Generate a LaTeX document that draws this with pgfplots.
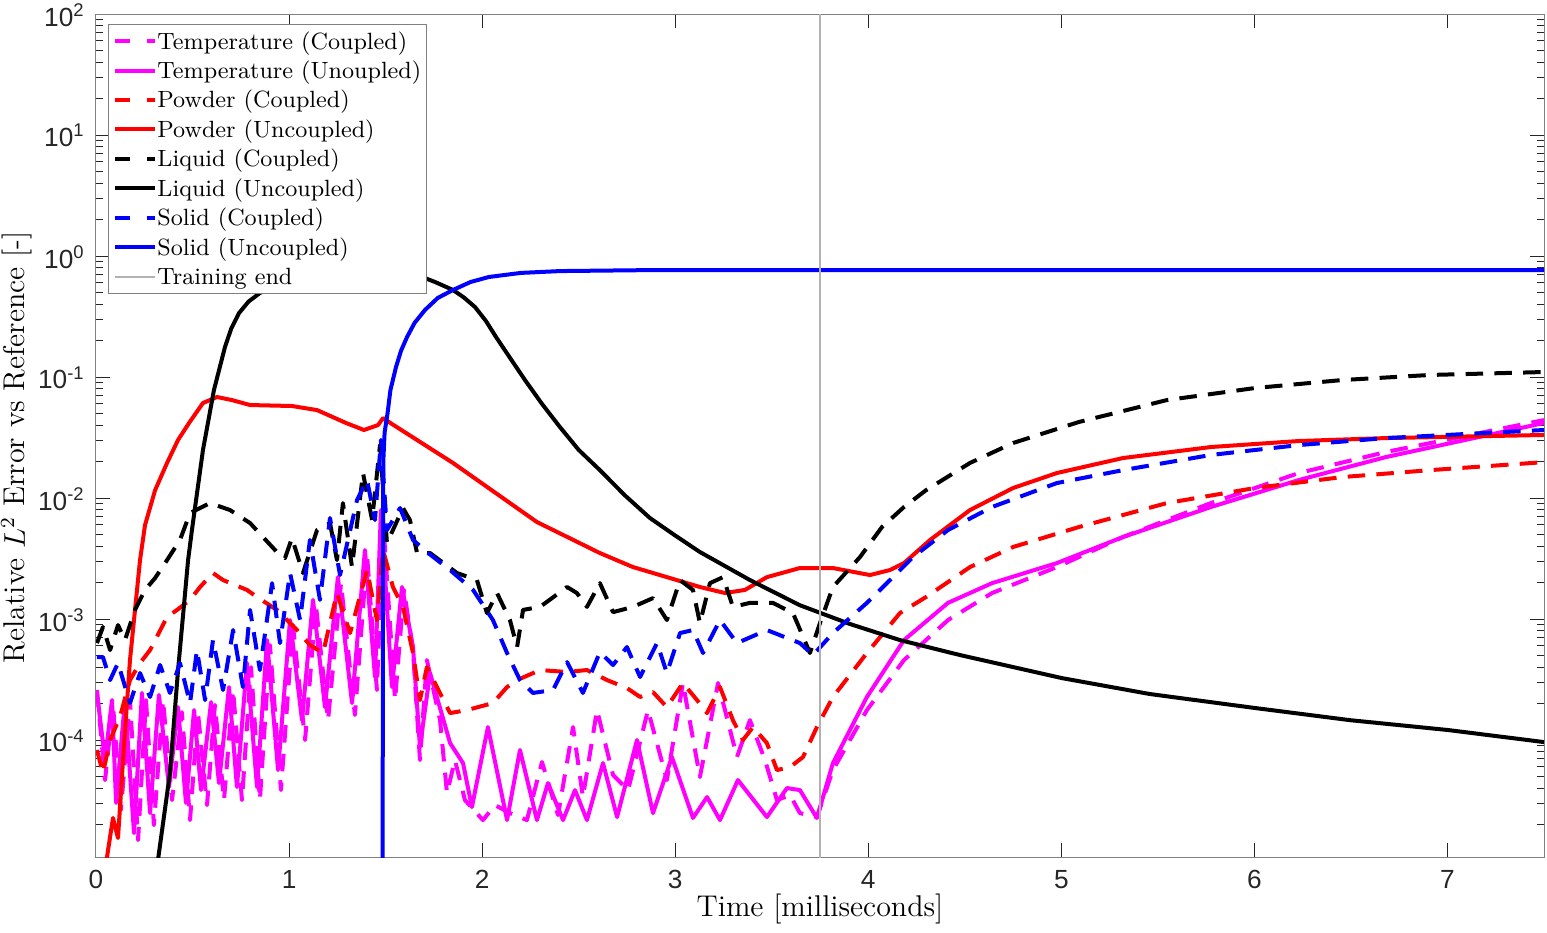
\documentclass[border=0pt]{standalone}
\usepackage{fontspec}
\newfontfamily\ticksans{Liberation Sans}
\usepackage{pgfplots}
\pgfplotsset{compat=1.18}
\definecolor{tickgray}{rgb}{0.15,0.15,0.15}
\definecolor{trgray}{rgb}{0.7,0.7,0.7}
\definecolor{mgt}{rgb}{1,0,1}
\definecolor{rd}{rgb}{1,0,0}
\definecolor{bl}{rgb}{0,0,1}
\pgfplotsset{
  ls/.style={line width=1.6pt, line join=round},
  dsh/.style={ls, dash pattern=on 7pt off 4.5pt},
}
\begin{document}
\begin{tikzpicture}
\path[use as bounding box] (-38.4pt,-30pt) rectangle (580.4pt,342.8pt);
\begin{axis}[
  at={(0pt,0pt)}, anchor=south west,
  scale only axis, width=579.2pt, height=337.2pt,
  xmin=0, xmax=7.5, ymode=log, ymin=1.08e-5, ymax=100,
  xtick={0,1,2,3,4,5,6,7}, xticklabels={0,1,2,3,4,5,6,7},
  ytick={1e-4,1e-3,1e-2,1e-1,1,10,100},
  yticklabels={10\textsuperscript{-4},10\textsuperscript{-3},10\textsuperscript{-2},10\textsuperscript{-1},10\textsuperscript{0},10\textsuperscript{1},10\textsuperscript{2}},
  minor ytick={2e-5,3e-5,4e-5,5e-5,6e-5,7e-5,8e-5,9e-5,
    2e-4,3e-4,4e-4,5e-4,6e-4,7e-4,8e-4,9e-4,
    2e-3,3e-3,4e-3,5e-3,6e-3,7e-3,8e-3,9e-3,
    2e-2,3e-2,4e-2,5e-2,6e-2,7e-2,8e-2,9e-2,
    0.2,0.3,0.4,0.5,0.6,0.7,0.8,0.9,
    2,3,4,5,6,7,8,9,20,30,40,50,60,70,80,90},
  tick align=inside,
  major tick length=5.6pt, minor tick length=2.8pt,
  tick style={tickgray, line width=0.4pt},
  axis line style={black!50, line width=0.4pt},
  ticklabel style={font=\ticksans\fontsize{10.5}{12}\selectfont, text=tickgray},
  xticklabel style={yshift=-1.8pt},
  yticklabel style={xshift=-0.9pt, yshift=-0.3pt},
  xlabel={Time [milliseconds]},
  ylabel={Relative $L^2$ Error vs Reference [-]},
  label style={font=\fontsize{12}{14}\selectfont},
  xlabel style={at={([yshift=-23.6pt]axis description cs:0.5,0)}, anchor=base},
  ylabel style={at={([xshift=-28.4pt]axis description cs:0,0.486)}, anchor=base},
  legend style={at={(0.00829,0.98814)}, anchor=north west, draw=black!50, line width=0.4pt,
    fill=white, inner xsep=2pt, inner ysep=0.7pt, font=\fontsize{9.4}{11}\selectfont,
    row sep=0pt, column sep=0pt, nodes={inner sep=0pt, text height=9.1pt, text depth=2.7pt}},
  legend cell align=left,
  legend image code/.code={\draw[#1] (0pt,0pt) -- (16pt,0pt);},
]
% Temperature (Coupled)
\addplot[dsh, mgt, forget plot] coordinates {
(0.005,2.59e-4) (0.047,4.67e-5) (0.088,1.95e-4) (0.129,2.64e-5) (0.176,2.14e-4) (0.218,1.49e-5) (0.259,2.14e-4) (0.300,1.98e-5) (0.347,2.14e-4) (0.394,3.19e-5) (0.445,1.70e-4) (0.487,2.18e-5) (0.528,1.70e-4) (0.575,2.90e-5) (0.616,1.95e-4) (0.663,3.19e-5) (0.710,2.59e-4) (0.756,3.19e-5) (0.803,4.01e-4) (0.849,3.19e-5) (0.901,6.10e-4) (0.958,3.86e-5) (1.020,8.92e-4) (1.083,1.0e-4) (1.139,1.31e-3) (1.202,1.46e-4) (1.269,1.98e-3) (1.341,1.61e-4) (1.404,3.38e-3) (1.455,2.59e-4) (1.487,6.58e-3) (1.549,2.14e-4) (1.595,1.74e-3) (1.642,5.54e-4) (1.678,6.84e-5) (1.714,4.58e-4) (1.782,1.46e-4) (1.818,3.65e-5) (1.859,6.84e-5) (1.911,3.19e-5) (2.004,2.18e-5) (2.067,2.90e-5) (2.144,2.49e-5) (2.232,2.18e-5) (2.310,6.58e-5) (2.393,2.40e-5) (2.471,1.28e-4) (2.522,3.38e-5) (2.595,1.77e-4) (2.678,5.14e-5) (2.756,3.86e-5) (2.859,1.77e-4) (2.957,4.67e-5) (3.040,2.96e-4) (3.128,4.95e-5) (3.222,2.96e-4) (3.320,7.24e-5) (3.387,1.46e-4) (3.465,6.84e-5) (3.527,3.19e-5) (3.595,3.51e-5) (3.646,2.49e-5) (3.734,2.31e-5) (3.817,5.65e-5) (3.993,1.77e-4) (4.185,4.58e-4) (4.413,9.81e-4) (4.641,1.64e-3) (4.977,2.69e-3) (5.319,4.76e-3) (5.775,9.09e-3) (6.231,1.61e-2) (6.681,2.40e-2) (7.500,4.41e-2)
};
% Temperature (Uncoupled)
\addplot[ls, mgt, forget plot] coordinates {
(0.005,2.45e-4) (0.047,6.84e-5) (0.083,2.14e-4) (0.104,3.02e-5) (0.150,2.14e-4) (0.197,1.70e-5) (0.238,2.45e-4) (0.280,2.49e-5) (0.326,2.36e-4) (0.378,4.09e-5) (0.425,1.87e-4) (0.466,3.02e-5) (0.508,1.77e-4) (0.544,3.86e-5) (0.596,2.06e-4) (0.637,4.41e-5) (0.689,2.74e-4) (0.730,4.09e-5) (0.782,4.33e-4) (0.834,4.09e-5) (0.886,6.70e-4) (0.943,5.65e-5) (1.005,9.81e-4) (1.067,1.46e-4) (1.124,1.44e-3) (1.186,1.87e-4) (1.253,2.22e-3) (1.326,2.02e-4) (1.393,3.72e-3) (1.445,3.32e-4) (1.476,7.96e-3) (1.533,2.74e-4) (1.585,1.84e-3) (1.642,5.87e-4) (1.678,8.75e-5) (1.730,3.58e-4) (1.834,9.44e-5) (1.901,6.45e-5) (1.947,2.79e-5) (2.030,1.28e-4) (2.129,2.18e-5) (2.196,8.27e-5) (2.284,2.18e-5) (2.341,4.41e-5) (2.419,2.18e-5) (2.481,3.86e-5) (2.543,2.18e-5) (2.626,6.45e-5) (2.699,2.31e-5) (2.802,1.0e-4) (2.885,2.49e-5) (2.983,7.24e-5) (3.092,2.27e-5) (3.165,3.38e-5) (3.232,2.18e-5) (3.325,4.67e-5) (3.475,2.31e-5) (3.579,4.01e-5) (3.646,3.86e-5) (3.734,2.27e-5) (3.817,6.45e-5) (3.993,2.27e-4) (4.185,6.70e-4) (4.413,1.36e-3) (4.641,1.98e-3) (4.977,2.90e-3) (5.319,4.76e-3) (5.775,8.43e-3) (6.231,1.41e-2) (6.681,2.18e-2) (7.500,4.17e-2)
};
% Powder (Coupled)
\addplot[dsh, rd, forget plot] coordinates {
(0.005,8.27e-5) (0.036,5.33e-5) (0.073,1.0e-4) (0.124,1.55e-4) (0.176,3.13e-4) (0.228,4.33e-4) (0.280,5.54e-4) (0.368,1.04e-3) (0.420,1.19e-3) (0.487,1.44e-3) (0.539,1.84e-3) (0.606,2.40e-3) (0.658,2.10e-3) (0.782,1.74e-3) (0.834,1.52e-3) (0.937,1.19e-3) (1.041,8.11e-4) (1.108,6.10e-4) (1.176,5.24e-4) (1.248,1.64e-3) (1.316,7.66e-4) (1.404,2.54e-3) (1.455,9.81e-4) (1.487,3.72e-3) (1.538,1.84e-3) (1.590,1.26e-3) (1.642,5.24e-4) (1.678,2.14e-4) (1.714,4.01e-4) (1.766,2.74e-4) (1.834,1.67e-4) (1.922,1.77e-4) (2.056,2.02e-4) (2.129,2.74e-4) (2.181,3.13e-4) (2.300,3.79e-4) (2.440,3.65e-4) (2.543,3.79e-4) (2.647,3.13e-4) (2.750,2.69e-4) (2.818,2.27e-4) (2.885,2.49e-4) (2.957,1.87e-4) (3.040,2.96e-4) (3.113,2.14e-4) (3.165,1.67e-4) (3.232,2.74e-4) (3.299,1.46e-4) (3.351,1.0e-4) (3.403,1.28e-4) (3.475,9.44e-5) (3.527,5.65e-5) (3.595,5.98e-5) (3.662,7.24e-5) (3.734,1.28e-4) (3.817,2.27e-4) (3.993,5.24e-4) (4.164,1.12e-3) (4.299,1.52e-3) (4.527,2.69e-3) (4.750,3.94e-3) (5.091,5.76e-3) (5.547,9.09e-3) (6.003,1.21e-2) (6.454,1.49e-2) (6.909,1.70e-2) (7.500,1.98e-2)
};
% Powder (Uncoupled)
\addplot[ls, rd, forget plot] coordinates {
(0.041,6.97e-6) (0.057,1.08e-5) (0.088,2.27e-5) (0.114,1.55e-5) (0.140,6.84e-5) (0.176,4.58e-4) (0.228,3.07e-3) (0.254,5.98e-3) (0.306,1.16e-2) (0.368,1.95e-2) (0.425,3.02e-2) (0.482,4.17e-2) (0.554,6.10e-2) (0.627,6.84e-2) (0.704,6.45e-2) (0.798,5.87e-2) (1.015,5.76e-2) (1.145,5.33e-2) (1.295,4.17e-2) (1.388,3.65e-2) (1.461,4.01e-2) (1.487,4.58e-2) (1.533,4.09e-2) (1.849,1.95e-2) (2.284,6.33e-3) (2.610,3.51e-3) (2.781,2.69e-3) (2.957,2.22e-3) (3.128,1.84e-3) (3.258,1.64e-3) (3.361,1.74e-3) (3.475,2.22e-3) (3.646,2.64e-3) (3.817,2.64e-3) (4.009,2.31e-3) (4.112,2.54e-3) (4.185,2.90e-3) (4.320,4.50e-3) (4.527,7.96e-3) (4.750,1.21e-2) (4.977,1.61e-2) (5.319,2.14e-2) (5.775,2.64e-2) (6.231,2.96e-2) (6.681,3.13e-2) (7.500,3.32e-2)
};
% Liquid (Coupled)
\addplot[dsh, black, forget plot] coordinates {
(0.005,6.33e-4) (0.036,8.59e-4) (0.073,5.54e-4) (0.114,8.92e-4) (0.150,6.70e-4) (0.202,1.19e-3) (0.254,1.74e-3) (0.306,2.18e-3) (0.368,3.07e-3) (0.435,4.50e-3) (0.487,7.51e-3) (0.590,9.09e-3) (0.694,7.96e-3) (0.798,6.21e-3) (0.865,4.76e-3) (0.937,3.58e-3) (0.979,3.19e-3) (1.015,4.67e-3) (1.072,2.40e-3) (1.145,5.44e-3) (1.212,6.21e-3) (1.248,3.07e-3) (1.279,9.09e-3) (1.326,2.69e-3) (1.383,1.61e-2) (1.430,6.58e-3) (1.471,2.74e-2) (1.507,4.25e-3) (1.538,5.44e-3) (1.590,8.27e-3) (1.626,6.58e-3) (1.663,3.51e-3) (1.730,3.51e-3) (1.870,2.40e-3) (1.973,2.10e-3) (2.025,1.12e-3) (2.077,1.64e-3) (2.144,9.81e-4) (2.181,5.87e-4) (2.212,1.19e-3) (2.300,1.26e-3) (2.440,1.84e-3) (2.491,1.64e-3) (2.543,1.26e-3) (2.610,1.98e-3) (2.678,1.14e-3) (2.781,1.26e-3) (2.885,1.49e-3) (2.957,9.81e-4) (3.025,2.10e-3) (3.092,1.74e-3) (3.128,9.27e-4) (3.180,1.98e-3) (3.248,2.22e-3) (3.299,1.26e-3) (3.387,1.36e-3) (3.506,1.36e-3) (3.610,1.12e-3) (3.698,5.24e-4) (3.750,9.27e-4) (3.817,1.84e-3) (3.957,3.25e-3) (4.071,5.76e-3) (4.185,8.43e-3) (4.299,1.16e-2) (4.527,1.95e-2) (4.750,2.85e-2) (5.091,4.25e-2) (5.547,6.45e-2) (6.003,8.11e-2) (6.454,9.44e-2) (6.909,0.104) (7.500,0.110)
};
% Liquid (Uncoupled)
\addplot[ls, black, forget plot] coordinates {
(0.280,4.76e-6) (0.321,1.02e-5) (0.383,5.33e-5) (0.425,3.79e-4) (0.477,3.07e-3) (0.497,5.44e-3) (0.554,2.49e-2) (0.611,7.81e-2) (0.668,0.177) (0.700,0.25) (0.741,0.338) (0.790,0.42) (0.849,0.495) (1.005,0.633) (1.212,0.738) (1.419,0.796) (1.575,0.766) (1.663,0.697) (1.756,0.610) (1.849,0.524) (1.905,0.455) (1.963,0.379) (2.020,0.29) (2.072,0.214) (2.147,0.142) (2.222,9.44e-2) (2.310,0.060) (2.403,3.86e-2) (2.500,0.025) (2.610,1.70e-2) (2.740,0.0105) (2.869,6.84e-3) (3.000,4.9e-3) (3.128,3.58e-3) (3.387,2.10e-3) (3.646,1.30e-3) (3.905,9.10e-4) (4.164,6.70e-4) (4.475,5.04e-4) (5.003,3.25e-4) (5.459,2.40e-4) (6.003,1.84e-4) (6.495,1.46e-4) (7.003,1.21e-4) (7.500,9.62e-5)
};
% Solid (Coupled)
\addplot[dsh, bl, forget plot] coordinates {
(0.005,4.85e-4) (0.036,4.85e-4) (0.073,3.13e-4) (0.114,4.33e-4) (0.176,2.02e-4) (0.228,3.58e-4) (0.280,2.27e-4) (0.332,4.17e-4) (0.383,2.45e-4) (0.435,4.33e-4) (0.487,2.02e-4) (0.523,5.54e-4) (0.565,2.14e-4) (0.606,6.70e-4) (0.658,2.59e-4) (0.710,8.11e-4) (0.761,2.74e-4) (0.798,1.19e-3) (0.849,3.79e-4) (0.912,1.98e-3) (0.953,6.33e-4) (1.005,2.40e-3) (1.057,9.81e-4) (1.108,4.50e-3) (1.160,1.44e-3) (1.212,6.84e-3) (1.264,2.31e-3) (1.352,9.63e-3) (1.404,1.41e-2) (1.445,6.58e-3) (1.476,3.02e-2) (1.507,5.44e-3) (1.575,8.27e-3) (1.642,4.50e-3) (1.714,3.58e-3) (1.834,2.54e-3) (1.953,1.74e-3) (2.056,9.81e-4) (2.129,5.24e-4) (2.196,3.13e-4) (2.263,2.45e-4) (2.367,2.59e-4) (2.440,4.41e-4) (2.522,2.45e-4) (2.610,5.33e-4) (2.678,4.17e-4) (2.750,5.87e-4) (2.818,3.32e-4) (2.906,6.33e-4) (2.957,3.58e-4) (3.025,7.66e-4) (3.092,8.11e-4) (3.144,5.24e-4) (3.232,9.81e-4) (3.320,6.33e-4) (3.475,8.11e-4) (3.646,6.33e-4) (3.714,5.04e-4) (3.817,7.66e-4) (3.993,1.36e-3) (4.128,2.22e-3) (4.232,3.25e-3) (4.413,5.44e-3) (4.641,8.43e-3) (4.977,1.33e-2) (5.319,1.70e-2) (5.775,2.27e-2) (6.231,2.74e-2) (6.681,3.13e-2) (7.500,3.65e-2)
};
% Solid (Uncoupled)
\addplot[ls, bl, forget plot] coordinates {
(1.484,1.0e-6) (1.486,1.0e-3) (1.488,2.0e-2) (1.495,3.5e-2) (1.510,5.0e-2) (1.525,0.078) (1.554,0.121) (1.580,0.165) (1.611,0.214) (1.650,0.28) (1.704,0.358) (1.770,0.45) (1.849,0.524) (1.940,0.61) (2.035,0.671) (2.200,0.725) (2.403,0.751) (2.900,0.766) (7.500,0.766)
};
% Training end
\addplot[trgray, line width=0.5pt, forget plot] coordinates {(3.75,1e-6) (3.75,1e3)};
% legend
\addlegendimage{line width=1.6pt, mgt, dash pattern=on 6pt off 6.8pt}
\addlegendentry{Temperature (Coupled)}
\addlegendimage{line width=1.6pt, mgt}
\addlegendentry{Temperature (Unoupled)}
\addlegendimage{line width=1.6pt, rd, dash pattern=on 6pt off 6.8pt}
\addlegendentry{Powder (Coupled)}
\addlegendimage{line width=1.6pt, rd}
\addlegendentry{Powder (Uncoupled)}
\addlegendimage{line width=1.6pt, black, dash pattern=on 6pt off 6.8pt}
\addlegendentry{Liquid (Coupled)}
\addlegendimage{line width=1.6pt, black}
\addlegendentry{Liquid (Uncoupled)}
\addlegendimage{line width=1.6pt, bl, dash pattern=on 6pt off 6.8pt}
\addlegendentry{Solid (Coupled)}
\addlegendimage{line width=1.6pt, bl}
\addlegendentry{Solid (Uncoupled)}
\addlegendimage{line width=0.5pt, trgray}
\addlegendentry{Training end}
\end{axis}
\end{tikzpicture}
\end{document}
